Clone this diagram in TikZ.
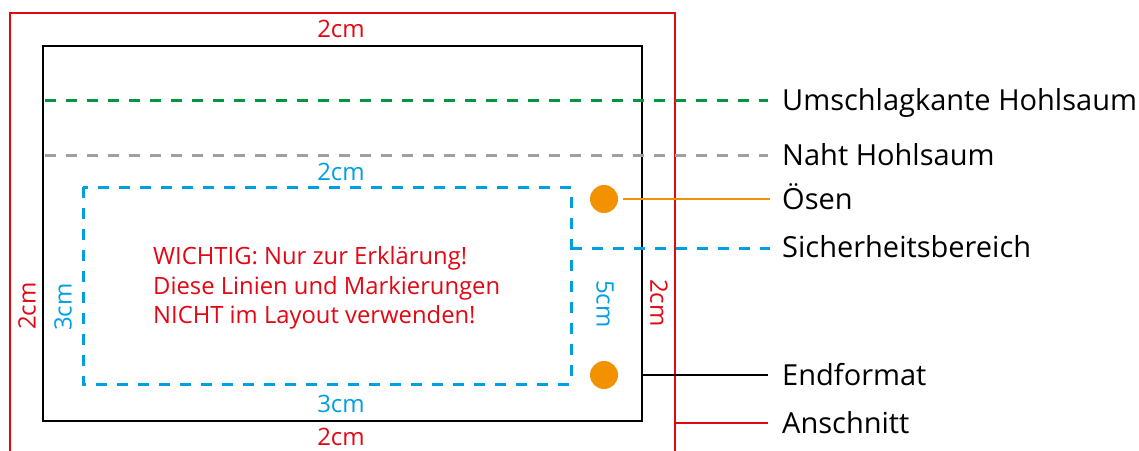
\documentclass[tikz,border=0pt]{standalone}
\usepackage{fontspec}
\setmainfont{Open Sans}
\definecolor{cred}{RGB}{227,6,19}
\definecolor{cgreen}{RGB}{0,150,64}
\definecolor{cgray}{RGB}{160,160,160}
\definecolor{cblue}{RGB}{0,159,227}
\definecolor{corange}{RGB}{243,146,0}
\begin{document}
\begin{tikzpicture}[x=1pt,y=-1pt,
  solidline/.style={line width=2.6pt},
  dashline/.style={line width=3pt, dash pattern=on 11pt off 10pt},
  lbl/.style={font=\fontsize{29}{34}\selectfont, inner sep=0pt, anchor=base west},
  dimlbl/.style={font=\fontsize{24}{28}\selectfont, inner sep=0pt},
  ose/.style={circle, fill=corange, minimum size=28pt, inner sep=0pt}]
\useasboundingbox (0,0) rectangle (1139,450);
% Anschnitt (bleed)
\draw[solidline, cred] (10,452) -- (10,13) -- (675,13) -- (675,452);
% Endformat
\draw[solidline, black] (43,46) rectangle (642,421);
% fold / seam lines
\coordinate (gS) at (45,100);
\coordinate (gE) at (768,100);
\coordinate (nS) at (45,155);
\coordinate (nE) at (768,155);
\draw[dashline, cgreen] (gS) -- (gE);
\draw[dashline, cgray] (nS) -- (nE);
% safety area
\draw[dashline, cblue] (83,187) rectangle (571,384);
\coordinate (sS) at (571,248);
\coordinate (sE) at (770,248);
\draw[dashline, cblue] (sS) -- (sE);
% eyelets
\node[ose] (o1) at (604,199) {};
\node[ose] (o2) at (604,375) {};
\coordinate (oS) at (623,199);
\coordinate (oE) at (770,199);
\draw[line width=2.8pt, corange] (oS) -- (oE);
% Endformat / Anschnitt leaders
\coordinate (eS) at (642,375);
\coordinate (eE) at (768,375);
\draw[solidline, black] (eS) -- (eE);
\coordinate (aS) at (675,423);
\coordinate (aE) at (768,423);
\draw[solidline, cred] (aS) -- (aE);
% legend labels
\node[lbl] (lU) at (782,110.5) {Umschlagkante Hohlsaum};
\node[lbl] (lN) at (782,165.5) {Naht Hohlsaum};
\node[lbl] (lO) at (782,209.5) {Ösen};
\node[lbl] (lS) at (782,257.5) {Sicherheitsbereich};
\node[lbl] (lE) at (782,385.5) {Endformat};
\node[lbl] (lA) at (782,433.5) {Anschnitt};
% dimension labels
\node[dimlbl, text=cred] (dT) at (341,29) {2cm};
\node[dimlbl, text=cred] (dB) at (341,437) {2cm};
\node[dimlbl, text=cred, rotate=90] (dL) at (27,306) {2cm};
\node[dimlbl, text=cred, rotate=-90] (dR) at (659,303) {2cm};
\node[dimlbl, text=cblue] (bT) at (341,172) {2cm};
\node[dimlbl, text=cblue] (bB) at (341,404) {3cm};
\node[dimlbl, text=cblue, rotate=90] (bL) at (63,307) {3cm};
\node[dimlbl, text=cblue, rotate=-90] (bR) at (605,304) {5cm};
% warning
\node[font=\fontsize{23.8}{29.5}\selectfont, text=cred, align=left, inner sep=0pt, anchor=west] (warn) at (153,288)
  {WICHTIG: Nur zur Erklärung!\\Diese Linien und Markierungen\\NICHT im Layout verwenden!};
\end{tikzpicture}
\end{document}
